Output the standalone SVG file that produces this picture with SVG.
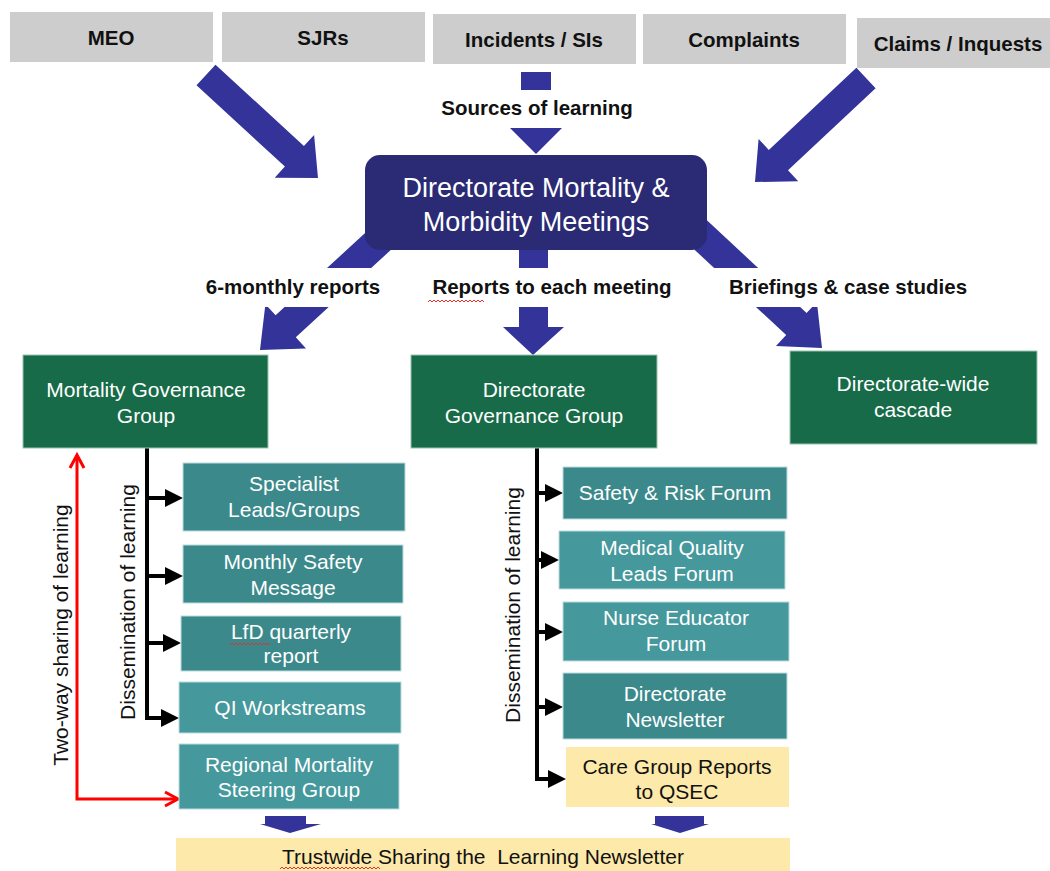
<svg xmlns="http://www.w3.org/2000/svg" width="1050" height="871" viewBox="0 0 1050 871">
<style>
text{font-family:"Liberation Sans",Arial,sans-serif;text-anchor:middle}
.src rect{fill:#cdcdcd}
.src text{font-size:20.5px;font-weight:bold;fill:#111}
.lbl{font-size:20.5px;font-weight:bold;fill:#111}
.grn rect{fill:#176b48;stroke:#9cc3b0;stroke-width:1}
.grn text,.tl text{font-size:21px;fill:#fff}
.t1{fill:#3b898b;stroke:#bcdcdc;stroke-width:1}
.t2{fill:#45989c;stroke:#bcdcdc;stroke-width:1}
.yel{fill:#fde9a9}
.dark{font-size:21px;fill:#111}
.nav{fill:#333399}
.blk{stroke:#000;stroke-width:4;fill:none}
.bh{fill:#000}
.red{stroke:#ff0000;stroke-width:3;fill:none}
.sq{stroke:#e03030;stroke-width:1;fill:none}
</style>
<rect width="1050" height="871" fill="#fff"/>

<g id="connectors">
  <!-- sources arrows -->
  <polygon class="nav" points="215.5,64.7 303.9,146 314.1,134.9 318,178 274.7,177.7 284.9,166.6 196.5,85.3"/>
  <polygon class="nav" points="856.4,67.8 768.8,149.9 758.6,138.9 755,182 798.2,181.3 788,170.3 875.6,88.2"/>
  <rect class="nav" x="521" y="72" width="30" height="18"/>
  <polygon class="nav" points="510,128 562,128 536,154"/>
  <!-- outputs from M&M -->
  <polygon class="nav" points="374.9,224 275.6,315.3 265.4,304.3 260,350 306,348.4 295.8,337.3 395.1,246"/>
  <polygon class="nav" points="519,230 548,230 548,327 564,327 533,355 503,327 519,327"/>
  <polygon class="nav" points="700.2,214 806.6,313.1 816.9,302.1 822,348 776,346 786.2,335.1 679.8,236"/>
  <rect x="180" y="268" width="820" height="39" fill="#fff"/>
  <!-- left dissemination -->
  <path class="blk" d="M147,448 V718 H168 M147,498 H168 M147,576 H168 M147,643 H168"/>
  <polygon class="bh" points="165,489 183,498 165,507"/>
  <polygon class="bh" points="165,567 183,576 165,585"/>
  <polygon class="bh" points="163,634 181,643 163,652"/>
  <polygon class="bh" points="161,709 179,718 161,727"/>
  <!-- right dissemination -->
  <path class="blk" d="M537,448 V779 H550 M537,493 H548 M537,560 H544 M537,632 H548 M537,707 H548"/>
  <polygon class="bh" points="545,484 563,493 545,502"/>
  <polygon class="bh" points="541,551 559,560 541,569"/>
  <polygon class="bh" points="545,623 563,632 545,641"/>
  <polygon class="bh" points="545,698 563,707 545,716"/>
  <polygon class="bh" points="548,770 566,779 548,788"/>
  <!-- two-way red -->
  <path class="red" d="M77,456 V799 H176"/>
  <polyline class="red" points="70,468 77,455 84,468"/>
  <polyline class="red" points="165,792 178,799 165,806"/>
  <!-- down to trustwide -->
  <polygon class="nav" points="265,816 306,816 306,824 321,824 290,833 260,824 265,824"/>
  <polygon class="nav" points="655,816 704,816 704,824 709,824 680,833 651,824 655,824"/>
</g>

<g id="meo" class="src"><rect x="10" y="12" width="203" height="50"/><text x="111" y="45">MEO</text></g>
<g id="sjrs" class="src"><rect x="222" y="12" width="203" height="50"/><text x="323" y="45">SJRs</text></g>
<g id="incidents" class="src"><rect x="433" y="14" width="203" height="50"/><text x="534" y="47">Incidents / SIs</text></g>
<g id="complaints" class="src"><rect x="643" y="14" width="203" height="50"/><text x="744" y="47">Complaints</text></g>
<g id="claims" class="src"><rect x="857" y="18" width="193" height="50"/><text x="958" y="51">Claims / Inquests</text></g>

<text class="lbl" x="537" y="115">Sources of learning</text>

<g id="mm">
  <rect x="365" y="155" width="342" height="95" rx="15" fill="#2b2a74"/>
  <text x="536" y="197" style="font-size:27px;fill:#fff">Directorate Mortality &amp;</text>
  <text x="536" y="231" style="font-size:27px;fill:#fff">Morbidity Meetings</text>
</g>

<text class="lbl" x="293" y="294">6-monthly reports</text>
<text class="lbl" x="552" y="294">Reports to each meeting</text>
<text class="lbl" x="848" y="294">Briefings &amp; case studies</text>

<g id="mgg" class="grn"><rect x="23" y="355" width="245" height="93"/><text x="146" y="397">Mortality Governance</text><text x="146" y="423">Group</text></g>
<g id="dgg" class="grn"><rect x="411" y="355" width="246" height="93"/><text x="534" y="397">Directorate</text><text x="534" y="423">Governance Group</text></g>
<g id="dwc" class="grn"><rect x="790" y="351" width="247" height="93"/><text x="913" y="391">Directorate-wide</text><text x="913" y="417">cascade</text></g>

<text class="dark" transform="translate(135,602) rotate(-90)">Dissemination of learning</text>
<text class="dark" transform="translate(68,635) rotate(-90)">Two-way sharing of learning</text>
<text class="dark" transform="translate(520,605) rotate(-90)">Dissemination of learning</text>

<g id="specialist" class="tl"><rect class="t1" x="183" y="463" width="222" height="68"/><text x="294" y="491">Specialist</text><text x="294" y="517">Leads/Groups</text></g>
<g id="monthly" class="tl"><rect class="t1" x="183" y="545" width="220" height="58"/><text x="293" y="569">Monthly Safety</text><text x="293" y="595">Message</text></g>
<g id="lfd" class="tl"><rect class="t1" x="181" y="616" width="220" height="55"/><text x="291" y="639">LfD quarterly</text><text x="291" y="663">report</text></g>
<g id="qi" class="tl"><rect class="t2" x="179" y="682" width="222" height="51"/><text x="290" y="715">QI Workstreams</text></g>
<g id="regional" class="tl"><rect class="t2" x="179" y="744" width="220" height="65"/><text x="289" y="772">Regional Mortality</text><text x="289" y="797">Steering Group</text></g>

<g id="safety" class="tl"><rect class="t1" x="563" y="467" width="224" height="52"/><text x="675" y="500">Safety &amp; Risk Forum</text></g>
<g id="medical" class="tl"><rect class="t2" x="559" y="531" width="226" height="58"/><text x="672" y="555">Medical Quality</text><text x="672" y="581">Leads Forum</text></g>
<g id="nurse" class="tl"><rect class="t2" x="563" y="602" width="226" height="59"/><text x="676" y="625">Nurse Educator</text><text x="676" y="651">Forum</text></g>
<g id="dirnews" class="tl"><rect class="t1" x="563" y="673" width="224" height="66"/><text x="675" y="701">Directorate</text><text x="675" y="727">Newsletter</text></g>
<g id="caregroup"><rect class="yel" x="566" y="747" width="223" height="60"/><text class="dark" x="677" y="774">Care Group Reports</text><text class="dark" x="677" y="799">to QSEC</text></g>

<g id="trustwide"><rect class="yel" x="176" y="838" width="614" height="33"/><text class="dark" x="483" y="864" xml:space="preserve">Trustwide Sharing the  Learning Newsletter</text></g>

<path class="sq" d="M428,302 l2,-2l2,2l2,-2l2,2l2,-2l2,2l2,-2l2,2l2,-2l2,2l2,-2l2,2l2,-2l2,2l2,-2l2,2l2,-2l2,2l2,-2l2,2l2,-2l2,2l2,-2l2,2l2,-2l2,2l2,-2l2,2"/>
<path class="sq" d="M230,645 l2,-2l2,2l2,-2l2,2l2,-2l2,2l2,-2l2,2l2,-2l2,2l2,-2l2,2l2,-2l2,2l2,-2l2,2l2,-2l2,2l2,-2l2,2"/>
<path class="sq" d="M280,869 l2,-2l2,2l2,-2l2,2l2,-2l2,2l2,-2l2,2l2,-2l2,2l2,-2l2,2l2,-2l2,2l2,-2l2,2l2,-2l2,2l2,-2l2,2l2,-2l2,2l2,-2l2,2l2,-2l2,2l2,-2l2,2l2,-2l2,2l2,-2l2,2l2,-2l2,2l2,-2l2,2l2,-2l2,2l2,-2l2,2l2,-2l2,2l2,-2l2,2l2,-2l2,2l2,-2l2,2l2,-2l2,2"/>
</svg>
